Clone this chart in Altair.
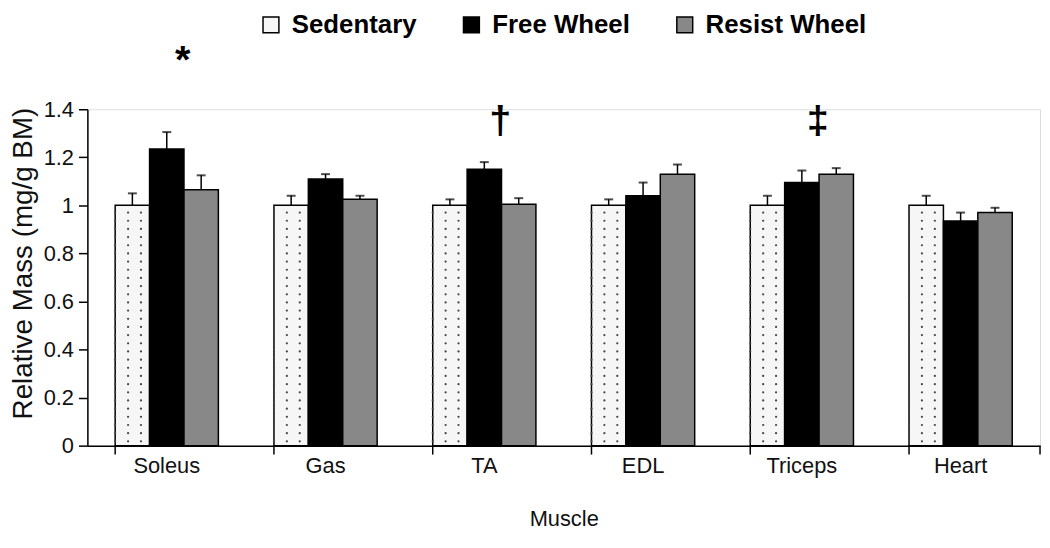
import altair as alt
import pandas as pd

muscles = ["Soleus", "Gas", "TA", "EDL", "Triceps", "Heart"]
groups = ["Sedentary", "Free Wheel", "Resist Wheel"]
sedentary = [1.0, 1.0, 1.0, 1.0, 1.0, 1.0]
sedentary_err = [0.05, 0.04, 0.025, 0.025, 0.04, 0.04]
free_wheel = [1.235, 1.11, 1.15, 1.04, 1.095, 0.935]
free_wheel_err = [0.07, 0.02, 0.03, 0.055, 0.05, 0.035]
resist_wheel = [1.065, 1.025, 1.005, 1.13, 1.13, 0.97]
resist_wheel_err = [0.06, 0.015, 0.025, 0.04, 0.025, 0.02]
y_ticks = [0, 0.2, 0.4, 0.6, 0.8, 1.0, 1.2, 1.4]

sig_muscles = ["Soleus", "TA", "Triceps"]
sig_marks = ["*", "†", "‡"]
sig_y = [1.60, 1.35, 1.35]

# texture columns for the dotted sedentary fill (the bar spans the first 3 of 9 slots)
dot_cols = ["c0", "c1", "c2", "c3", "c4", "c5", "c6", "c7", "c8"]

rows = []
for g, vals, errs in [("Sedentary", sedentary, sedentary_err),
                      ("Free Wheel", free_wheel, free_wheel_err),
                      ("Resist Wheel", resist_wheel, resist_wheel_err)]:
    for m, v, e in zip(muscles, vals, errs):
        rows.append({"muscle": m, "group": g, "value": v, "top": v + e})
df = pd.DataFrame(rows)
sed_df = df[df["group"] == "Sedentary"].copy()
sig_df = pd.DataFrame({"muscle": sig_muscles, "mark": sig_marks, "y": sig_y, "group": ["Free Wheel"] * 3})
tick_df = pd.DataFrame({"muscle": muscles})

FONT = "Liberation Sans"

x_scale = alt.Scale(domain=muscles, paddingInner=0.35, paddingOuter=0.175)
y_scale = alt.Scale(domain=[0, 1.4], nice=False)
xo = alt.XOffset("group:N", sort=groups, scale=alt.Scale(domain=groups, paddingInner=0, paddingOuter=0))

x_enc = alt.X("muscle:N", sort=muscles, scale=x_scale,
              axis=alt.Axis(title="Muscle", labelAngle=0, ticks=False, labelFont=FONT,
                            labelFontSize=22, labelColor="#111", labelPadding=10,
                            titleFont=FONT, titleFontSize=22, titleFontWeight="normal",
                            titleColor="#111", titlePadding=32,
                            domainColor="#000", domainWidth=1.5))

bars = alt.Chart(df).mark_bar(stroke="#000", strokeWidth=1.5).encode(
    x=x_enc,
    xOffset=xo,
    y=alt.Y("value:Q", scale=y_scale,
            axis=alt.Axis(title="Relative Mass (mg/g BM)", values=y_ticks, format=".1~f",
                          grid=False, labelFont=FONT, labelFontSize=22, labelColor="#111",
                          labelPadding=5, tickSize=9, tickColor="#000", tickWidth=1.5,
                          domainColor="#000", domainWidth=1.5,
                          titleFont=FONT, titleFontSize=28, titleFontWeight="normal",
                          titleColor="#111", titleAngle=270, titleX=-64, titleY=155,
                          titleAlign="center", titleBaseline="middle")),
    fill=alt.Fill("group:N", sort=groups,
                  scale=alt.Scale(domain=groups, range=["#f6f6f6", "#000000", "#888888"]),
                  legend=alt.Legend(title=None, orient="none", direction="horizontal",
                                    legendX=172, legendY=-98, symbolType="square",
                                    symbolSize=256, symbolStrokeColor="#000",
                                    symbolStrokeWidth=1.5, labelFont=FONT,
                                    labelFontSize=26, labelFontWeight="bold",
                                    labelColor="#000", labelOffset=8, columnPadding=42,
                                    labelLimit=300)),
)

# dotted texture of the sedentary bars: a grid of rows (by bar height) x 3 columns
dots = alt.Chart(sed_df).transform_calculate(
    rowy="sequence(0.018, datum.value - 0.008, 0.034)"
).transform_flatten(["rowy"]).transform_calculate(
    col="['c0', 'c1', 'c2']"
).transform_flatten(["col"]).mark_circle(size=5, color="#444", opacity=1).encode(
    x=alt.X("muscle:N", sort=muscles, scale=x_scale),
    xOffset=alt.XOffset("col:N", scale=alt.Scale(domain=dot_cols, paddingInner=0, paddingOuter=0)),
    y=alt.Y("rowy:Q", scale=y_scale),
)

err_rule = alt.Chart(df).mark_rule(color="#000", strokeWidth=1.5).encode(
    x=alt.X("muscle:N", sort=muscles, scale=x_scale),
    xOffset=xo,
    y=alt.Y("value:Q", scale=y_scale),
    y2="top:Q",
)
err_cap = alt.Chart(df).mark_tick(color="#000", size=9, thickness=2).encode(
    x=alt.X("muscle:N", sort=muscles, scale=x_scale),
    xOffset=xo,
    y=alt.Y("top:Q", scale=y_scale),
)

sig = alt.Chart(sig_df).mark_text(font=FONT, fontSize=40, fontWeight="bold", color="#000",
                                  dx=16, baseline="middle").encode(
    x=alt.X("muscle:N", sort=muscles, scale=x_scale),
    y=alt.Y("y:Q", scale=y_scale),
    text="mark:N",
)

cat_ticks = alt.Chart(tick_df).mark_rule(color="#000", strokeWidth=1.5).encode(
    x=alt.X("muscle:N", sort=muscles, scale=x_scale, bandPosition=0),
    y=alt.value(339),
    y2=alt.value(348),
)
end_tick = alt.Chart(tick_df.head(1)).mark_rule(color="#000", strokeWidth=1.5).encode(
    x=alt.value(960), y=alt.value(339), y2=alt.value(348),
)

chart = alt.layer(bars, dots, err_rule, err_cap, sig, cat_ticks, end_tick).resolve_scale(
    xOffset="independent"
).properties(
    width=960, height=339,
    autosize=alt.AutoSizeParams(type="none"),
    padding={"left": 80, "top": 100, "right": 2, "bottom": 88},
).configure_view(stroke=None).configure(background="white")

chart.save("out.html", embed_options={"renderer": "svg", "actions": False})
